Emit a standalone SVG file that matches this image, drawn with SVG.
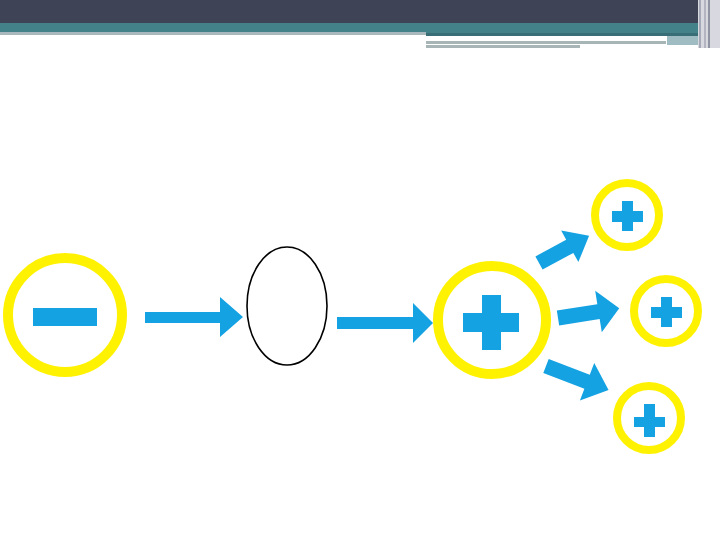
<svg xmlns="http://www.w3.org/2000/svg" width="720" height="540" viewBox="0 0 720 540">
<style>
.ring{fill:none;stroke:#fff200}
.sign{fill:#14a2e2}
.arrow{fill:#14a2e2}
</style>
<rect width="720" height="540" fill="#ffffff"/>
<g id="header">
<rect x="0" y="0" width="720" height="24" fill="#3e4456"/>
<rect x="0" y="23" width="700" height="9" fill="#44828a"/>
<rect x="426" y="31" width="272" height="3" fill="#44828a"/>
<rect x="426" y="33" width="272" height="3" fill="#3a6e76"/>
<rect x="0" y="32" width="426" height="3" fill="#a9b8bc"/>
<rect x="426" y="41" width="240" height="3" fill="#a7b5b7"/>
<rect x="426" y="45" width="154" height="3" fill="#a7b5b7"/>
<rect x="667" y="36" width="31" height="9" fill="#9fbcc2"/>
<rect x="698" y="0" width="22" height="48" fill="#d8d9e0"/>
<rect x="699" y="0" width="2" height="48" fill="#a6a9b6"/>
<rect x="704" y="0" width="2" height="48" fill="#b2b5c0"/>
<rect x="708" y="0" width="2" height="48" fill="#8f93a2"/>
</g>
<g id="minus-node">
<circle class="ring" cx="65" cy="315" r="57" stroke-width="10"/>
<rect class="sign" x="33" y="308" width="64" height="18"/>
</g>
<g id="ellipse-node">
<ellipse cx="287" cy="306" rx="40" ry="59" fill="none" stroke="#000" stroke-width="1.6"/>
</g>
<g id="plus-node">
<circle class="ring" cx="492" cy="320" r="54" stroke-width="10"/>
<rect class="sign" x="463" y="313" width="56" height="19"/>
<rect class="sign" x="482" y="295" width="19" height="55"/>
</g>
<g id="plus-top">
<circle class="ring" cx="627" cy="215" r="32" stroke-width="8"/>
<rect class="sign" x="612" y="211" width="31" height="11"/>
<rect class="sign" x="622" y="201" width="11" height="30"/>
</g>
<g id="plus-mid">
<circle class="ring" cx="666" cy="311" r="32" stroke-width="8"/>
<rect class="sign" x="651" y="307" width="31" height="11"/>
<rect class="sign" x="661" y="297" width="11" height="30"/>
</g>
<g id="plus-bottom">
<circle class="ring" cx="649" cy="418" r="32" stroke-width="8"/>
<rect class="sign" x="634" y="417" width="31" height="10"/>
<rect class="sign" x="644" y="404" width="11" height="33"/>
</g>
<g id="connectors">
<path class="arrow" d="M145,312 H220 V297 L243,317 L220,337 V323 H145 Z"/>
<path class="arrow" d="M337,317 H413 V303 L433,323 L413,343 V329 H337 Z"/>
<path class="arrow" transform="translate(539,263) rotate(-28.5)" d="M0,-7.5 H35 V-18 L57,0 L35,18 V7.5 H0 Z"/>
<path class="arrow" transform="translate(558,318) rotate(-9)" d="M0,-7.5 H41 V-21 L62,0 L41,21 V7.5 H0 Z"/>
<path class="arrow" transform="translate(546,366) rotate(21)" d="M0,-7.5 H44 V-20 L67,0 L44,20 V7.5 H0 Z"/>
</g>
</svg>
